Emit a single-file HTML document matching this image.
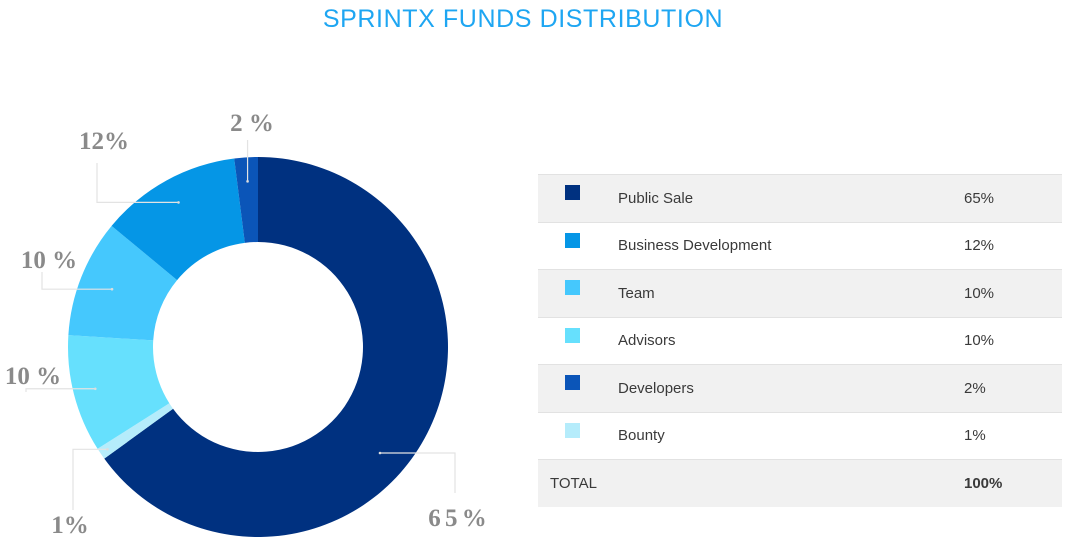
<!DOCTYPE html>
<html><head><meta charset="utf-8"><style>
body{margin:0;width:1070px;height:551px;background:#fff;overflow:hidden;position:relative;font-family:"Liberation Sans",sans-serif}
#title{position:absolute;left:0;width:1046px;top:5px;text-align:center;font-size:25px;color:#1ea6f2;letter-spacing:0.6px}
table{position:absolute;left:538px;top:174px;width:524px;border-collapse:collapse;font-size:15px;color:#3a3a3a}
td{height:46.5px;border-top:1px solid #e2e2e2;padding:0}
tr:nth-child(odd){background:#f1f1f1}
.sw{width:80px}
.sw span{display:inline-block;width:15px;height:15px;margin-left:27px;vertical-align:-1px;position:relative;top:-4px}
.nm{width:346px}
</style></head><body>
<div id="title">SPRINTX FUNDS DISTRIBUTION</div>
<svg id="chart" width="530" height="551" style="position:absolute;left:0;top:0"></svg>
<table><tbody id="tb"></tbody></table>
<script>
const categories=["Public Sale","Bounty","Advisors","Team","Business Development","Developers"];
const values=[65,1,10,10,12,2];
const colors=["#003180","#b5ecfb","#66e0fd","#45c8fd","#0596e6","#0b55b8"];
const tableOrder=["Public Sale","Business Development","Team","Advisors","Developers","Bounty"];
const labelText=["6 5 %","1%","10 %","10 %","12%","2 %"];
const NS="http://www.w3.org/2000/svg";
const svg=document.getElementById('chart');
const cx=258,cy=347,R=190,r=105;
const total=values.reduce((a,b)=>a+b,0);
function pt(a,rad){return [cx+rad*Math.sin(a),cy-rad*Math.cos(a)];}
let acc=0;
const lab=[{rd:0,lx:455,ly:493,tx:457,ty:526,dir:1},{rd:182,lx:73,ly:510,tx:70,ty:533,dir:-1},{rd:168,lx:26,ly:392,tx:33,ty:384,dir:-1},{rd:157,lx:42,ly:272,tx:49,ty:268,dir:-1},{rd:165,lx:97,ly:163,tx:104,ty:149,dir:-1},{rd:166,lx:248,ly:140,tx:252,ty:131,dir:0}];
values.forEach((v,i)=>{
  const a0=acc/total*2*Math.PI; acc+=v; const a1=acc/total*2*Math.PI;
  const large=(a1-a0)>Math.PI?1:0;
  const [x0,y0]=pt(a0,R),[x1,y1]=pt(a1,R),[x2,y2]=pt(a1,r),[x3,y3]=pt(a0,r);
  const p=document.createElementNS(NS,'path');
  p.setAttribute('d',`M${x0},${y0}A${R},${R} 0 ${large} 1 ${x1},${y1}L${x2},${y2}A${r},${r} 0 ${large} 0 ${x3},${y3}Z`);
  p.setAttribute('fill',colors[i]);
  
  
  svg.appendChild(p);
  const am=(a0+a1)/2; const L=lab[i];
  let [dx,dy]=pt(am,L.rd);
  if(i==0){dx=380;dy=453;}
  const pl=document.createElementNS(NS,'polyline');
  const pts=L.dir===0?`${dx},${dy} ${dx},${L.ly}`:`${dx},${dy} ${L.lx},${dy} ${L.lx},${L.ly}`;
  pl.setAttribute('points',pts);pl.setAttribute('fill','none');pl.setAttribute('stroke','#e3e3e3');pl.setAttribute('stroke-width','1.2');
  
  
  svg.appendChild(pl);
  const c=document.createElementNS(NS,'circle');c.setAttribute('cx',dx);c.setAttribute('cy',dy);c.setAttribute('r',1.3);c.setAttribute('fill','#ddd');
  
  
  svg.appendChild(c);
  const t=document.createElementNS(NS,'text');
  t.setAttribute('x',L.tx);t.setAttribute('y',L.ty);t.setAttribute('text-anchor','middle');
  t.setAttribute('font-family','"Liberation Serif",serif');t.setAttribute('font-weight','bold');t.setAttribute('font-size','25');t.setAttribute('fill','#8a8a8a');
  if(i==0) t.setAttribute('letter-spacing','-1');
  t.textContent=labelText[i];
  
  
  svg.appendChild(t);
});
const tb=document.getElementById('tb');
tableOrder.forEach(n=>{
  const i=categories.indexOf(n);
  const tr=document.createElement('tr');
  
  
  tr.innerHTML=`<td class="sw"><span style="background:${colors[i]}"></span></td><td class="nm">${n}</td><td>${values[i]}%</td>`;
  tb.appendChild(tr);
});
const tr=document.createElement('tr');


tr.innerHTML=`<td colspan="2" style="padding-left:12px">TOTAL</td><td style="font-weight:bold">${total}%</td>`;
tb.appendChild(tr);
</script>
</body></html>
